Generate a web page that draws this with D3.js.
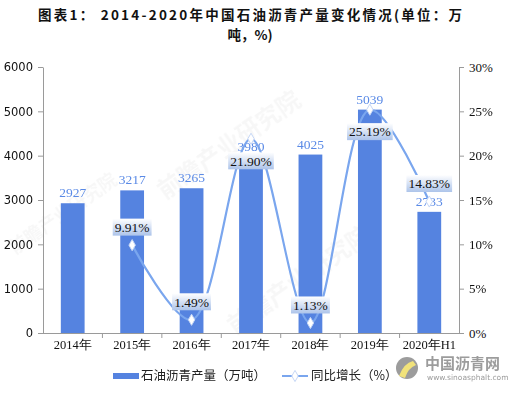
<!DOCTYPE html>
<html>
<head>
<meta charset="utf-8">
<script src="https://cdn.jsdelivr.net/npm/d3@7"></script>
<style>
  body { margin: 0; background: #fff; }
  svg { display: block; }
</style>
</head>
<body>
<svg width="513" height="397"></svg>
<script>
// данные графика
const years = ["2014年", "2015年", "2016年", "2017年", "2018年", "2019年", "2020年H1"];
const output = [2927, 3217, 3265, 3980, 4025, 5039, 2733];
const growth = [null, 9.91, 1.49, 21.90, 1.13, 25.19, 14.83];
const leftTicks = [0, 1000, 2000, 3000, 4000, 5000, 6000];
const rightTicks = [0, 5, 10, 15, 20, 25, 30];
const titleLines = ["图表1： 2014-2020年中国石油沥青产量变化情况(单位：万", "吨，%)"];
const legendNames = ["石油沥青产量（万吨）", "同比增长（%）"];

const svg = d3.select("svg");
const barColor = "#5583e0";
const lineColor = "#7aa6ee";
const serif = "'Liberation Serif', 'Times New Roman', serif";
const sans = "'DejaVu Sans', 'Noto Sans', sans-serif";
const cjk = "'Noto Sans CJK SC', sans-serif";

const plotL = 43, plotR = 459, plotT = 67, plotB = 333;

const x = d3.scaleBand().domain(years).range([plotL, plotR]).paddingInner(0.6).paddingOuter(0.3);
const xBand = d3.scaleBand().domain(years).range([plotL, plotR]);
const yL = d3.scaleLinear().domain([0, 6000]).range([plotB, plotT]);
const yR = d3.scaleLinear().domain([0, 30]).range([plotB, plotT]);

// заголовок в две строки
const title = svg.append("g")
  .attr("font-family", cjk).attr("font-weight", "bold").attr("font-size", 13.5)
  .attr("fill", "#111").attr("text-anchor", "middle");
title.append("text").attr("x", 250).attr("y", 20)
  .attr("textLength", 424).attr("lengthAdjust", "spacing")
  .text(titleLines[0]);
title.append("text").attr("x", 250).attr("y", 40).text(titleLines[1]);

// водяные знаки (еле заметные)
const wm = svg.append("g").attr("fill", "#000").attr("opacity", 0.035)
  .attr("font-family", cjk).attr("font-weight", "bold");
[[165, 200, 24], [235, 335, 24], [15, 255, 18]].forEach(p => {
  wm.append("text").attr("transform", `translate(${p[0]},${p[1]}) rotate(-35)`)
    .attr("font-size", p[2]).text("前瞻产业研究院");
});

// столбцы
svg.append("g").selectAll("rect").data(output).join("rect")
  .attr("x", (d, i) => x(years[i]))
  .attr("y", d => yL(d))
  .attr("width", x.bandwidth())
  .attr("height", d => plotB - yL(d))
  .attr("fill", barColor);

// оси
const axL = svg.append("g").attr("transform", `translate(${plotL},0)`)
  .call(d3.axisLeft(yL).tickValues(leftTicks).tickSize(5).tickSizeOuter(0).tickFormat(d3.format("d")));
axL.selectAll("text").attr("font-family", sans).attr("font-size", 11.5).attr("fill", "#111").attr("dx", -2);

const axR = svg.append("g").attr("transform", `translate(${plotR},0)`)
  .call(d3.axisRight(yR).tickValues(rightTicks).tickSize(5).tickSizeOuter(0).tickFormat(d => d + "%"));
axR.selectAll("text").attr("font-family", serif).attr("font-size", 13).attr("fill", "#111").attr("dx", 2);

const axB = svg.append("g").attr("transform", `translate(0,${plotB})`)
  .call(d3.axisBottom(xBand).tickSize(0).tickSizeOuter(0));
axB.selectAll("text").attr("font-family", serif).attr("font-size", 12.5).attr("fill", "#111").attr("dy", "1.0em");
// метки между категориями
axB.selectAll(".sep").data(years.slice(1)).join("line")
  .attr("x1", d => xBand(d)).attr("x2", d => xBand(d))
  .attr("y1", 0).attr("y2", 5);
[axL, axR, axB].forEach(a => {
  a.selectAll("path, line").attr("stroke", "#9a9a9a");
});
axB.select(".domain").attr("d", `M${plotL},0.5H${plotR}`);

// подписи столбцов
svg.append("g").selectAll("text").data(output).join("text")
  .attr("x", (d, i) => x(years[i]) + x.bandwidth() / 2)
  .attr("y", d => yL(d) - 6)
  .attr("text-anchor", "middle")
  .attr("font-family", serif).attr("font-size", 13.5).attr("fill", "#5a8ae6")
  .text(d => d);

// линия прироста
const pts = growth.map((g, i) => ({ x: xBand(years[i]) + xBand.bandwidth() / 2, y: g === null ? null : yR(g), v: g }))
  .filter(d => d.v !== null);
const line = d3.line().x(d => d.x).y(d => d.y).curve(d3.curveCatmullRom.alpha(0.5));
svg.append("path").attr("d", line(pts))
  .attr("fill", "none").attr("stroke", lineColor).attr("stroke-width", 2.2);

const diamond = d3.symbol().type(d3.symbolDiamond).size(36);
svg.append("g").selectAll("path").data(pts).join("path")
  .attr("transform", d => `translate(${d.x},${d.y})`)
  .attr("d", diamond)
  .attr("fill", "#fff").attr("stroke", "#c5d6f5").attr("stroke-width", 1);

// подписи процентов в градиентных рамках
const defs = svg.append("defs");
const grad = defs.append("linearGradient").attr("id", "lblGrad").attr("x1", 0).attr("y1", 0).attr("x2", 0).attr("y2", 1);
grad.append("stop").attr("offset", "0%").attr("stop-color", "#ffffff");
grad.append("stop").attr("offset", "100%").attr("stop-color", "#adc4ea");

const lbl = svg.append("g").selectAll("g").data(pts).join("g")
  .attr("transform", d => `translate(${d.x},${d.y + (d.v > 20 ? 22 : -18)})`);
lbl.append("rect")
  .attr("x", -22).attr("y", -8.5).attr("width", 44).attr("height", 17)
  .attr("fill", "url(#lblGrad)");
lbl.append("text")
  .attr("text-anchor", "middle").attr("dy", "0.35em")
  .attr("font-family", serif).attr("font-size", 13.5).attr("fill", "#111")
  .text(d => d.v.toFixed(2) + "%");
lbl.each(function () {
  const t = d3.select(this).select("text").node().getBBox();
  d3.select(this).select("rect").attr("x", t.x - 2).attr("width", t.width + 4);
});

// легенда
const lg = svg.append("g").attr("font-family", cjk).attr("font-size", 12.5).attr("fill", "#222");
lg.append("rect").attr("x", 113).attr("y", 373).attr("width", 26).attr("height", 6).attr("fill", barColor);
lg.append("text").attr("x", 141).attr("y", 376).attr("dy", "0.35em").text(legendNames[0]);
lg.append("line").attr("x1", 282).attr("x2", 308).attr("y1", 376).attr("y2", 376)
  .attr("stroke", lineColor).attr("stroke-width", 2);
lg.append("path").attr("transform", "translate(295,376)").attr("d", diamond)
  .attr("fill", "#fff").attr("stroke", "#c5d6f5");
lg.append("text").attr("x", 311).attr("y", 376).attr("dy", "0.35em").text(legendNames[1]);

// логотип
const logo = svg.append("g");
logo.append("circle").attr("cx", 407).attr("cy", 368).attr("r", 11).attr("fill", "#9c9c9c");
logo.append("path").attr("d", "M399,376 Q404,363 413,361 L416,365 Q408,368 405,378 Z").attr("fill", "#f1e27a");
logo.append("text").attr("x", 425).attr("y", 364).attr("dy", "0.35em")
  .attr("font-family", cjk).attr("font-weight", "bold").attr("font-size", 15).attr("fill", "#9c9c9c")
  .text("中国沥青网");
logo.append("text").attr("x", 427).attr("y", 377).attr("dy", "0.35em")
  .attr("font-family", sans).attr("font-size", 7.5).attr("fill", "#9c9c9c")
  .text("www.sinoasphalt.com");
</script>
</body>
</html>
